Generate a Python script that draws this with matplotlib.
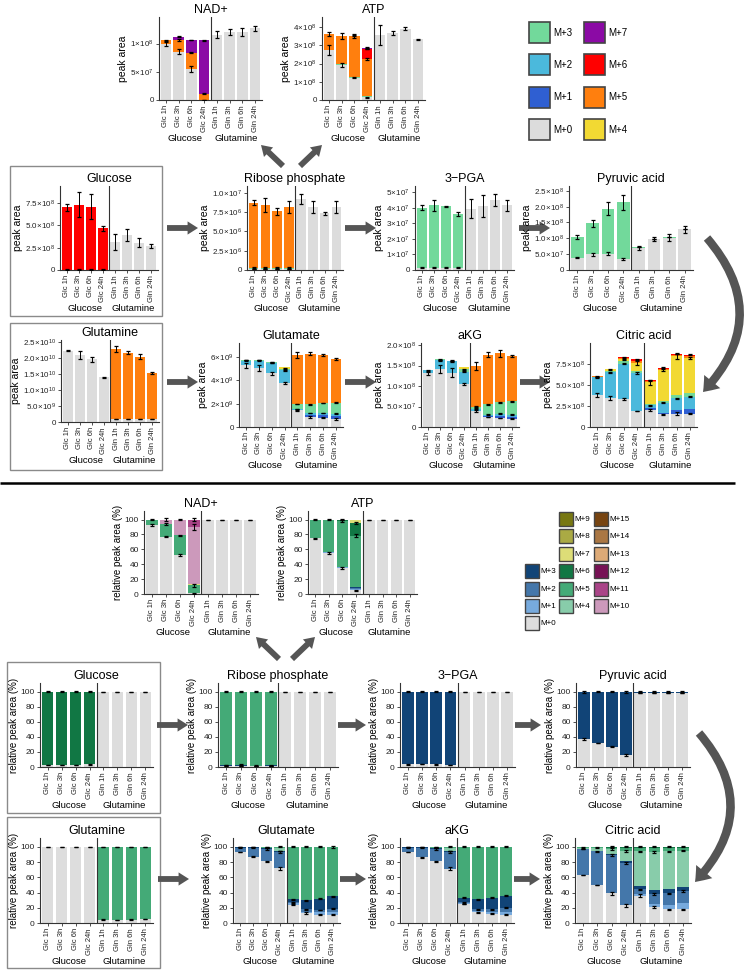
import numpy as np
import matplotlib
matplotlib.use('Agg')
import matplotlib.pyplot as plt
from matplotlib.patches import Rectangle, FancyArrowPatch

plt.rcParams['font.family'] = ['Liberation Sans', 'DejaVu Sans']
plt.rcParams['mathtext.fontset'] = 'custom'
plt.rcParams['mathtext.rm'] = 'Liberation Sans'
plt.rcParams['mathtext.it'] = 'Liberation Sans:italic'
plt.rcParams['mathtext.bf'] = 'Liberation Sans:bold'

# ---------------- data ----------------
categories = ['Glc 1h', 'Glc 3h', 'Glc 6h', 'Glc 24h', 'Gln 1h', 'Gln 3h', 'Gln 6h', 'Gln 24h']
groups = ['Glucose', 'Glutamine']

top_colors = {'M+0': '#dcdcdc', 'M+1': '#2f5fd2', 'M+2': '#4bb9dc', 'M+3': '#72d99b',
              'M+4': '#f2d933', 'M+5': '#ff7f0e', 'M+6': '#ff0000', 'M+7': '#8b0aa5'}
bot_colors = {'M+0': '#dddddd', 'M+1': '#77aadd', 'M+2': '#4477aa', 'M+3': '#114477',
              'M+4': '#88ccaa', 'M+5': '#44aa77', 'M+6': '#117744', 'M+7': '#dddd77',
              'M+8': '#aaaa44', 'M+9': '#777711', 'M+10': '#cc99bb', 'M+11': '#aa4488',
              'M+12': '#771155', 'M+13': '#ddaa77', 'M+14': '#aa7744', 'M+15': '#774411'}

# absolute peak areas (segment heights per isotopologue)
nad_abs = {'M+0': [0.99e8, 0.855e8, 0.55e8, 0.005e8, 1.16e8, 1.20e8, 1.20e8, 1.27e8],
           'M+5': [0.07e8, 0.205e8, 0.29e8, 0.11e8, 0, 0, 0, 0],
           'M+7': [0, 0.06e8, 0.22e8, 0.945e8, 0, 0, 0, 0]}
nad_abs_err = {'M+0': [0.03e8, 0.04e8, 0.06e8, 0.003e8, 0.07e8, 0.05e8, 0.07e8, 0.04e8],
               'M+5': [0.01e8, 0.02e8, 0.005e8, 0.01e8, 0, 0, 0, 0],
               'M+7': [0, 0.005e8, 0.005e8, 0.01e8, 0, 0, 0, 0]}

atp_abs = {'M+0': [2.74e8, 1.93e8, 1.22e8, 0.15e8, 3.57e8, 3.69e8, 3.91e8, 3.33e8],
           'M+1': [0, 0, 0, 0.02e8, 0, 0, 0, 0],
           'M+3': [0, 0.03e8, 0.03e8, 0.03e8, 0, 0, 0, 0],
           'M+5': [0.88e8, 1.54e8, 2.25e8, 2.05e8, 0, 0, 0, 0],
           'M+6': [0, 0, 0.03e8, 0.55e8, 0, 0, 0, 0],
           'M+7': [0, 0, 0, 0.06e8, 0, 0, 0, 0]}
atp_abs_err = {'M+0': [0.27e8, 0.12e8, 0.04e8, 0.03e8, 0.55e8, 0.1e8, 0.08e8, 0.02e8],
               'M+5': [0.1e8, 0.15e8, 0.1e8, 0.05e8, 0, 0, 0, 0],
               'M+6': [0, 0, 0.01e8, 0.03e8, 0, 0, 0, 0],
               'M+7': [0, 0, 0, 0.04e8, 0, 0, 0, 0]}

glc_abs = {'M+0': [0.05e8, 0.05e8, 0.05e8, 0.05e8, 3.1e8, 3.9e8, 3.05e8, 2.7e8],
           'M+6': [6.95e8, 7.25e8, 7.05e8, 4.6e8, 0, 0, 0, 0]}
glc_abs_err = {'M+0': [0.02e8, 0.02e8, 0.02e8, 0.02e8, 0.88e8, 0.7e8, 0.5e8, 0.2e8],
               'M+6': [0.35e8, 1.4e8, 1.4e8, 0.28e8, 0, 0, 0, 0]}

rib_abs = {'M+0': [0.1e6, 0.1e6, 0.1e6, 0.1e6, 9.2e6, 8.2e6, 7.35e6, 8.2e6],
           'M+2': [0.05e6, 0.05e6, 0.05e6, 0.05e6, 0, 0, 0, 0],
           'M+3': [0.15e6, 0.15e6, 0.15e6, 0.15e6, 0, 0, 0, 0],
           'M+5': [8.45e6, 8.1e6, 7.3e6, 7.9e6, 0, 0, 0, 0]}
rib_abs_err = {'M+0': [0, 0, 0, 0, 0.6e6, 0.75e6, 0.2e6, 0.75e6],
               'M+3': [0.08e6, 0.08e6, 0.08e6, 0.08e6, 0, 0, 0, 0],
               'M+5': [0.35e6, 0.9e6, 0.45e6, 0.75e6, 0, 0, 0, 0]}

pga_abs = {'M+0': [0.15e7, 0.15e7, 0.15e7, 0.15e7, 3.95e7, 4.1e7, 4.5e7, 4.15e7],
           'M+3': [3.85e7, 4.0e7, 3.95e7, 3.45e7, 0, 0, 0, 0]}
pga_abs_err = {'M+0': [0.03e7, 0.03e7, 0.03e7, 0.03e7, 0.6e7, 0.7e7, 0.4e7, 0.35e7],
               'M+3': [0.17e7, 0.35e7, 0.03e7, 0.15e7, 0, 0, 0, 0]}

pyr_abs = {'M+0': [0.39e8, 0.49e8, 0.52e8, 0.35e8, 0.70e8, 0.97e8, 1.02e8, 1.28e8],
           'M+3': [0.66e8, 0.98e8, 1.42e8, 1.78e8, 0.01e8, 0.01e8, 0.01e8, 0.01e8]}
pyr_abs_err = {'M+0': [0.02e8, 0.05e8, 0.05e8, 0.02e8, 0.06e8, 0.06e8, 0.1e8, 0.1e8],
               'M+3': [0.06e8, 0.12e8, 0.2e8, 0.25e8, 0, 0, 0, 0]}

gln_abs = {'M+0': [2.22e10, 2.08e10, 1.95e10, 1.39e10, 0.09e10, 0.09e10, 0.09e10, 0.09e10],
           'M+5': [0, 0, 0, 0, 2.18e10, 2.07e10, 1.94e10, 1.43e10]}
gln_abs_err = {'M+0': [0.01e10, 0.13e10, 0.07e10, 0.02e10, 0, 0, 0, 0],
               'M+5': [0, 0, 0, 0, 0.1e10, 0.04e10, 0.08e10, 0.04e10]}

glu_abs = {'M+0': [5.3e9, 5.05e9, 4.6e9, 3.75e9, 1.45e9, 0.85e9, 0.8e9, 0.7e9],
           'M+1': [0, 0, 0, 0, 0.02e9, 0.15e9, 0.2e9, 0.25e9],
           'M+2': [0.4e9, 0.65e9, 0.9e9, 1.1e9, 0.05e9, 0.2e9, 0.2e9, 0.2e9],
           'M+3': [0.02e9, 0.02e9, 0.05e9, 0.15e9, 0.45e9, 0.75e9, 0.85e9, 0.95e9],
           'M+4': [0, 0, 0.03e9, 0.15e9, 0, 0, 0, 0],
           'M+5': [0, 0, 0, 0, 4.2e9, 4.35e9, 4.15e9, 3.7e9]}
glu_abs_err = {'M+0': [0.2e9, 0.25e9, 0.15e9, 0.07e9, 0.05e9, 0.07e9, 0.05e9, 0.07e9],
               'M+2': [0.03e9, 0.03e9, 0.03e9, 0.05e9, 0, 0.03e9, 0.03e9, 0.03e9],
               'M+3': [0, 0, 0.03e9, 0.05e9, 0.03e9, 0.03e9, 0.03e9, 0.03e9],
               'M+5': [0, 0, 0, 0, 0.25e9, 0.15e9, 0.1e9, 0.08e9]}

akg_abs = {'M+0': [1.31e8, 1.42e8, 1.33e8, 1.05e8, 0.39e8, 0.245e8, 0.22e8, 0.2e8],
           'M+1': [0, 0, 0, 0, 0, 0.025e8, 0.05e8, 0.05e8],
           'M+2': [0.07e8, 0.21e8, 0.27e8, 0.3e8, 0.06e8, 0.03e8, 0.05e8, 0.05e8],
           'M+3': [0, 0.02e8, 0.02e8, 0.06e8, 0.05e8, 0.25e8, 0.28e8, 0.33e8],
           'M+4': [0, 0, 0, 0.05e8, 0, 0, 0, 0],
           'M+5': [0, 0, 0, 0, 0.99e8, 1.21e8, 1.2e8, 1.11e8]}
akg_abs_err = {'M+0': [0.04e8, 0.1e8, 0.1e8, 0.03e8, 0.02e8, 0.01e8, 0.01e8, 0.01e8],
               'M+2': [0.01e8] * 8,
               'M+3': [0, 0.01e8, 0.01e8, 0.01e8, 0.01e8, 0.01e8, 0.01e8, 0.01e8],
               'M+5': [0, 0, 0, 0, 0.1e8, 0.06e8, 0.08e8, 0.02e8]}

cit_abs = {'M+0': [3.8e8, 3.5e8, 3.3e8, 1.9e8, 2.05e8, 1.5e8, 1.6e8, 1.6e8],
           'M+1': [0, 0, 0, 0, 0.2e8, 0.2e8, 0.4e8, 0.6e8],
           'M+2': [2.1e8, 3.0e8, 4.25e8, 4.5e8, 0.35e8, 1.2e8, 1.4e8, 1.4e8],
           'M+3': [0.05e8, 0.15e8, 0.3e8, 0.3e8, 0.1e8, 0.15e8, 0.4e8, 0.45e8],
           'M+4': [0.05e8, 0.2e8, 0.2e8, 0.9e8, 2.6e8, 3.75e8, 4.6e8, 4.2e8],
           'M+5': [0.03e8, 0.05e8, 0.2e8, 0.3e8, 0.2e8, 0.15e8, 0.2e8, 0.2e8],
           'M+6': [0, 0, 0.05e8, 0.15e8, 0.08e8, 0.1e8, 0.15e8, 0.15e8]}
cit_abs_err = {'M+0': [0.2e8, 0.25e8, 0.1e8, 0.05e8, 0.15e8, 0.05e8, 0.15e8, 0.05e8],
               'M+2': [0.05e8, 0.1e8, 0.1e8, 0.1e8, 0.05e8, 0.05e8, 0.05e8, 0.05e8],
               'M+4': [0.03e8, 0.05e8, 0.05e8, 0.2e8, 0.3e8, 0.15e8, 0.3e8, 0.1e8],
               'M+6': [0, 0, 0.05e8, 0.05e8, 0.05e8, 0.05e8, 0.05e8, 0.05e8]}

# relative peak areas (%)
nad_rel = {'M+0': [93, 77, 52, 1, 100, 100, 100, 100],
           'M+5': [7, 17, 27, 11, 0, 0, 0, 0],
           'M+7': [0, 0, 0, 2, 0, 0, 0, 0],
           'M+10': [0, 6, 21, 76, 0, 0, 0, 0],
           'M+11': [0, 0, 0, 10, 0, 0, 0, 0]}
nad_rel_err = {'M+0': [1, 0.5, 1.2, 0.5, 0, 0, 0, 0],
               'M+5': [1, 1.5, 0.5, 2, 0, 0, 0, 0],
               'M+10': [0, 1.5, 0.5, 4, 0, 0, 0, 0],
               'M+11': [0, 0, 0, 1.5, 0, 0, 0, 0]}

atp_rel = {'M+0': [75, 55, 35, 5, 100, 100, 100, 100],
           'M+1': [0, 0.8, 0.8, 1.5, 0, 0, 0, 0],
           'M+2': [0, 0, 0, 1.5, 0, 0, 0, 0],
           'M+3': [0, 0, 0, 1, 0, 0, 0, 0],
           'M+5': [25, 44.2, 62.2, 69, 0, 0, 0, 0],
           'M+6': [0, 0, 2, 17, 0, 0, 0, 0],
           'M+7': [0, 0, 0, 5, 0, 0, 0, 0]}
atp_rel_err = {'M+0': [0.5, 1, 1, 0.5, 0, 0, 0, 0],
               'M+5': [0.3, 0.3, 1, 2, 0, 0, 0, 0],
               'M+6': [0, 0, 0.5, 1.5, 0, 0, 0, 0]}

glc_rel = {'M+0': [2.5, 2.5, 2.5, 3.5, 100, 100, 100, 100],
           'M+6': [97.5, 97.5, 97.5, 96.5, 0, 0, 0, 0]}
glc_rel_err = {'M+0': [0.3, 0.3, 0.3, 0.3, 0, 0, 0, 0],
               'M+6': [0.3, 0.3, 0.3, 0.3, 0, 0, 0, 0]}

rib_rel = {'M+0': [1, 1, 1, 1, 100, 100, 100, 100],
           'M+2': [0.5, 0.8, 0.3, 0.3, 0, 0, 0, 0],
           'M+3': [1, 1.5, 0.5, 0.7, 0, 0, 0, 0],
           'M+5': [97.5, 96.7, 98.2, 98, 0, 0, 0, 0]}
rib_rel_err = {'M+3': [0.5, 0.5, 0.3, 0.3, 0, 0, 0, 0],
               'M+5': [0.5, 0.5, 0.5, 0.5, 0, 0, 0, 0],
               'M+0': [0, 0, 0, 0, 0, 0, 0, 0]}

pga_rel = {'M+0': [3.5, 4, 3.5, 3, 100, 100, 100, 100],
           'M+3': [96.5, 96, 96.5, 97, 0, 0, 0, 0]}
pga_rel_err = {'M+0': [0.3, 0.3, 0.3, 0.3, 0, 0, 0, 0],
               'M+3': [0.5, 0.3, 0.3, 0.5, 0, 0, 0, 0]}

pyr_rel = {'M+0': [37, 32, 27, 16, 98.5, 98.5, 98.5, 98.5],
           'M+3': [63, 68, 73, 84, 1.5, 1.5, 1.5, 1.5]}
pyr_rel_err = {'M+0': [1.5, 0.5, 1, 1, 0, 0, 0, 0],
               'M+3': [1.5, 0.5, 1, 1.5, 0.5, 0.5, 0.5, 0.5]}

gln_rel = {'M+0': [100, 100, 100, 100, 4.5, 4, 4.5, 5.5],
           'M+5': [0, 0, 0, 0, 95.5, 96, 95.5, 94.5]}
gln_rel_err = {'M+0': [0, 0, 0, 0, 0.3, 0.3, 0.3, 0.3],
               'M+5': [0, 0, 0, 0, 0.3, 0.3, 0.3, 0.3]}

glu_rel = {'M+0': [93, 87, 81, 72, 24, 13, 11, 11],
           'M+1': [0, 0, 0, 0, 2, 2, 3, 4],
           'M+2': [6, 12, 16, 21, 1, 3, 3, 4],
           'M+3': [1, 1, 1, 2, 4, 12, 15, 16],
           'M+4': [0, 0, 1, 3, 0, 0, 0, 0],
           'M+5': [0, 0, 1, 2, 69, 70, 68, 65]}
glu_rel_err = {'M+0': [0.5, 0.5, 0.5, 2, 0.5, 1, 0.5, 1],
               'M+2': [0.5, 0.5, 1, 1.5, 0.5, 0.5, 0.5, 0.5],
               'M+3': [0, 0, 0, 0, 0.5, 0.5, 0.5, 0.5],
               'M+5': [0, 0, 0, 0.5, 0.5, 0.5, 0.5, 1]}

akg_rel = {'M+0': [93, 86, 81, 71, 25, 14, 12, 11],
           'M+1': [0, 0, 0, 0, 1, 2, 3, 4],
           'M+2': [6, 13, 16, 22, 1, 2, 3, 5],
           'M+3': [1, 1, 1, 2, 6, 13, 15, 16],
           'M+4': [0, 0, 1, 3, 0, 0, 0, 0],
           'M+5': [0, 0, 1, 2, 67, 69, 67, 64]}
akg_rel_err = {'M+0': [0.5, 0.5, 0.5, 2, 0.5, 1, 0.5, 1],
               'M+2': [0.5, 0.5, 1, 1.5, 0.5, 0.5, 0.5, 0.5],
               'M+3': [0, 0, 0, 0, 0.5, 0.5, 0.5, 0.5],
               'M+5': [0, 0, 0, 0.5, 0.5, 0.5, 0.5, 0.5]}

cit_rel = {'M+0': [63, 50, 39, 23, 36, 21, 18, 18],
           'M+1': [0, 0, 0, 0, 2, 4, 5, 8],
           'M+2': [34, 44, 50, 56, 6, 13, 16, 16],
           'M+3': [0, 0, 2, 2, 5, 5, 5, 5],
           'M+4': [2, 5, 6, 13, 45, 50, 50, 48],
           'M+5': [1, 1, 2, 5, 5, 6, 5, 4],
           'M+6': [0, 0, 1, 1, 1, 1, 1, 1]}
cit_rel_err = {'M+0': [0.5, 0.5, 2, 1.5, 1.5, 1, 0.5, 0.5],
               'M+2': [0.5, 0.5, 1, 1, 1, 1, 1, 1],
               'M+4': [0.5, 0.5, 1, 1.5, 1, 1, 1, 1],
               'M+6': [0, 0, 0.5, 0.5, 0.5, 0.5, 0.5, 0.5]}

abs_ticks = {
    'nad': [0, 5e7, 1e8], 'atp': [0, 1e8, 2e8, 3e8, 4e8],
    'glc': [0, 2.5e8, 5e8, 7.5e8], 'rib': [0, 2.5e6, 5e6, 7.5e6, 1e7],
    'pga': [0, 1e7, 2e7, 3e7, 4e7, 5e7], 'pyr': [0, 5e7, 1e8, 1.5e8, 2e8, 2.5e8],
    'gln': [0, 5e9, 1e10, 1.5e10, 2e10, 2.5e10], 'glu': [0, 2e9, 4e9, 6e9],
    'akg': [0, 5e7, 1e8, 1.5e8, 2e8], 'cit': [0, 2.5e8, 5e8, 7.5e8]}
rel_ticks = [0, 20, 40, 60, 80, 100]

# ---------------- drawing ----------------
W, H = 744, 972
fig = plt.figure(figsize=(W / 100, H / 100), dpi=100)
fig.patch.set_facecolor('white')

ov = fig.add_axes([0, 0, 1, 1])
ov.set_xlim(0, W)
ov.set_ylim(H, 0)
ov.axis('off')

SPINE = '#333333'


def sci_labels(ticks):
    parts = []
    for v in ticks:
        if v == 0:
            parts.append(None)
            continue
        e = int(np.floor(np.log10(v) + 1e-9))
        parts.append((v / 10 ** e, e))
    dec = any(p is not None and abs(p[0] - round(p[0])) > 1e-6 for p in parts)
    out = []
    for p in parts:
        if p is None:
            out.append('0')
        else:
            ms = f'{p[0]:.1f}' if dec else f'{p[0]:.0f}'
            out.append(r'$%s\!\times\!10^{%d}$' % (ms, p[1]))
    return out


def panel(rect, title, segs, errs, ymax, yticks, colors, rel=False):
    l, t, r, b = rect
    ax = fig.add_axes([l / W, 1 - b / H, (r - l) / W, (b - t) / H])
    x = np.arange(len(categories))
    bottom = np.zeros(len(categories))
    tops = {}
    for k, vals in segs.items():
        v = np.asarray(vals, float)
        ax.bar(x, v, 0.82, bottom=bottom, color=colors[k], linewidth=0, zorder=2)
        bottom = bottom + v
        tops[k] = bottom.copy()
    for k, e in errs.items():
        e = np.asarray(e, float)
        m = np.asarray(segs[k], float) > 0
        ax.errorbar(x[m], tops[k][m], yerr=e[m], fmt='none', ecolor='black',
                    elinewidth=0.7, capsize=1.7, capthick=0.9, zorder=3)
    ax.axvline(3.5, color=SPINE, lw=0.8, zorder=4)
    ax.set_xlim(-0.55, 7.55)
    ax.set_ylim(0, ymax)
    ax.set_xticks(x)
    ax.set_xticklabels(categories, rotation=90, fontsize=5.5)
    ax.set_yticks(yticks)
    if rel:
        ax.set_yticklabels([str(v) for v in yticks], fontsize=6)
        ax.set_ylabel('relative peak area (%)', fontsize=7, labelpad=1.5)
    else:
        ax.set_yticklabels(sci_labels(yticks), fontsize=5.8)
        ax.set_ylabel('peak area', fontsize=7.5, labelpad=1.5)
    for s in ['top', 'right']:
        ax.spines[s].set_visible(False)
    for s in ['left', 'bottom']:
        ax.spines[s].set_color(SPINE)
        ax.spines[s].set_linewidth(0.8)
    ax.tick_params(axis='both', length=2.2, width=0.6, color=SPINE, pad=1.5, labelcolor='#222222')
    ax.set_title(title, fontsize=9, pad=3)
    for gx, g in zip([1.5, 5.5], groups):
        ax.annotate(g, xy=(gx, 0), xycoords=('data', 'axes fraction'),
                    xytext=(0, -27.5), textcoords='offset points',
                    ha='center', va='center', fontsize=6.8, annotation_clip=False)
    return ax


# top half (absolute)
panel((159, 17, 262, 100), 'NAD+', nad_abs, nad_abs_err, 1.47e8, abs_ticks['nad'], top_colors)
panel((322, 17, 425, 100), 'ATP', atp_abs, atp_abs_err, 4.55e8, abs_ticks['atp'], top_colors)
panel((60, 186, 158, 270), 'Glucose', glc_abs, glc_abs_err, 9.4e8, abs_ticks['glc'], top_colors)
panel((247, 186, 343, 270), 'Ribose phosphate', rib_abs, rib_abs_err, 1.09e7, abs_ticks['rib'], top_colors)
panel((415, 186, 514, 270), '3\u2212PGA', pga_abs, pga_abs_err, 5.4e7, abs_ticks['pga'], top_colors)
panel((569, 186, 693, 270), 'Pyruvic acid', pyr_abs, pyr_abs_err, 2.65e8, abs_ticks['pyr'], top_colors)
panel((61, 340, 159, 422), 'Glutamine', gln_abs, gln_abs_err, 2.55e10, abs_ticks['gln'], top_colors)
panel((239, 343, 343, 427), 'Glutamate', glu_abs, glu_abs_err, 7.2e9, abs_ticks['glu'], top_colors)
panel((421, 343, 519, 427), 'aKG', akg_abs, akg_abs_err, 2.05e8, abs_ticks['akg'], top_colors)
panel((590, 343, 697, 427), 'Citric acid', cit_abs, cit_abs_err, 1.0e9, abs_ticks['cit'], top_colors)

# bottom half (relative)
panel((144, 511, 258, 594), 'NAD+', nad_rel, nad_rel_err, 111.5, rel_ticks, bot_colors, rel=True)
panel((308, 511, 417, 594), 'ATP', atp_rel, atp_rel_err, 111.5, rel_ticks, bot_colors, rel=True)
panel((40, 683, 153, 767), 'Glucose', glc_rel, glc_rel_err, 111.5, rel_ticks, bot_colors, rel=True)
panel((218, 683, 338, 767), 'Ribose phosphate', rib_rel, rib_rel_err, 111.5, rel_ticks, bot_colors, rel=True)
panel((400, 683, 515, 767), '3\u2212PGA', pga_rel, pga_rel_err, 111.5, rel_ticks, bot_colors, rel=True)
panel((576, 683, 690, 767), 'Pyruvic acid', pyr_rel, pyr_rel_err, 111.5, rel_ticks, bot_colors, rel=True)
panel((40, 838, 153, 923), 'Glutamine', gln_rel, gln_rel_err, 111.5, rel_ticks, bot_colors, rel=True)
panel((233, 838, 340, 923), 'Glutamate', glu_rel, glu_rel_err, 111.5, rel_ticks, bot_colors, rel=True)
panel((400, 838, 514, 923), 'aKG', akg_rel, akg_rel_err, 111.5, rel_ticks, bot_colors, rel=True)
panel((575, 838, 691, 923), 'Citric acid', cit_rel, cit_rel_err, 111.5, rel_ticks, bot_colors, rel=True)

# ---------------- decorations ----------------
FRAME = '#8a8a8a'
for (x0, y0, x1, y1) in [(10, 166, 162, 316), (10, 323, 162, 470),
                         (7, 662, 160, 813), (7, 817, 160, 968)]:
    ov.add_patch(Rectangle((x0, y0), x1 - x0, y1 - y0, fill=False, ec=FRAME, lw=1.0))

ov.plot([0, 735], [483, 483], color='black', lw=1.8, solid_capstyle='butt')

ARROW = '#555555'
straight = 'simple,head_length=0.75,head_width=0.95,tail_width=0.42'


def arrow(p0, p1, style=straight, conn='arc3,rad=0', ms=10):
    ov.add_patch(FancyArrowPatch(p0, p1, arrowstyle=style, connectionstyle=conn,
                                 mutation_scale=ms, color=ARROW, lw=0,
                                 shrinkA=0, shrinkB=0))


for y, xs in [(228, [(167, 198), (345, 376), (519, 550)]),
              (382, [(167, 198), (345, 376), (520, 550)]),
              (725, [(157, 188), (335, 366), (510, 541)]),
              (879, [(158, 189), (335, 366), (511, 540)])]:
    for x0, x1 in xs:
        arrow((x0, y), (x1, y))

arrow((283, 166), (261, 145))
arrow((300, 166), (322, 145))
arrow((279, 659), (256, 637))
arrow((292, 659), (315, 637))

curved = 'simple,head_length=1.0,head_width=1.5,tail_width=0.6'
arrow((707, 238), (703, 392), style=curved, conn='arc3,rad=-0.45')
arrow((699, 733), (695, 882), style=curved, conn='arc3,rad=-0.45')

# legends
LEG_EDGE = '#444444'
top_leg = [('M+3', 529, 32.5), ('M+2', 529, 65), ('M+1', 529, 97.5), ('M+0', 529, 130),
           ('M+7', 584, 32.5), ('M+6', 584, 65), ('M+5', 584, 97.5), ('M+4', 584, 130)]
for k, x0, yc in top_leg:
    ov.add_patch(Rectangle((x0, yc - 10.5), 21, 21, fc=top_colors[k], ec=LEG_EDGE, lw=1.2))
    ov.text(x0 + 24, yc, k, fontsize=7, va='center', ha='left')

bot_leg = [('M+3', 525, 571), ('M+2', 525, 589), ('M+1', 525, 606), ('M+0', 525, 623),
           ('M+9', 559, 519), ('M+8', 559, 536), ('M+7', 559, 554), ('M+6', 559, 571),
           ('M+5', 559, 589), ('M+4', 559, 606),
           ('M+15', 594, 519), ('M+14', 594, 536), ('M+13', 594, 554), ('M+12', 594, 571),
           ('M+11', 594, 589), ('M+10', 594, 606)]
for k, x0, yc in bot_leg:
    ov.add_patch(Rectangle((x0, yc - 7), 14, 14, fc=bot_colors[k], ec=LEG_EDGE, lw=1.0))
    ov.text(x0 + 15.5, yc, k, fontsize=5.8, va='center', ha='left')

fig.savefig('out.png', dpi=100, facecolor='white')
